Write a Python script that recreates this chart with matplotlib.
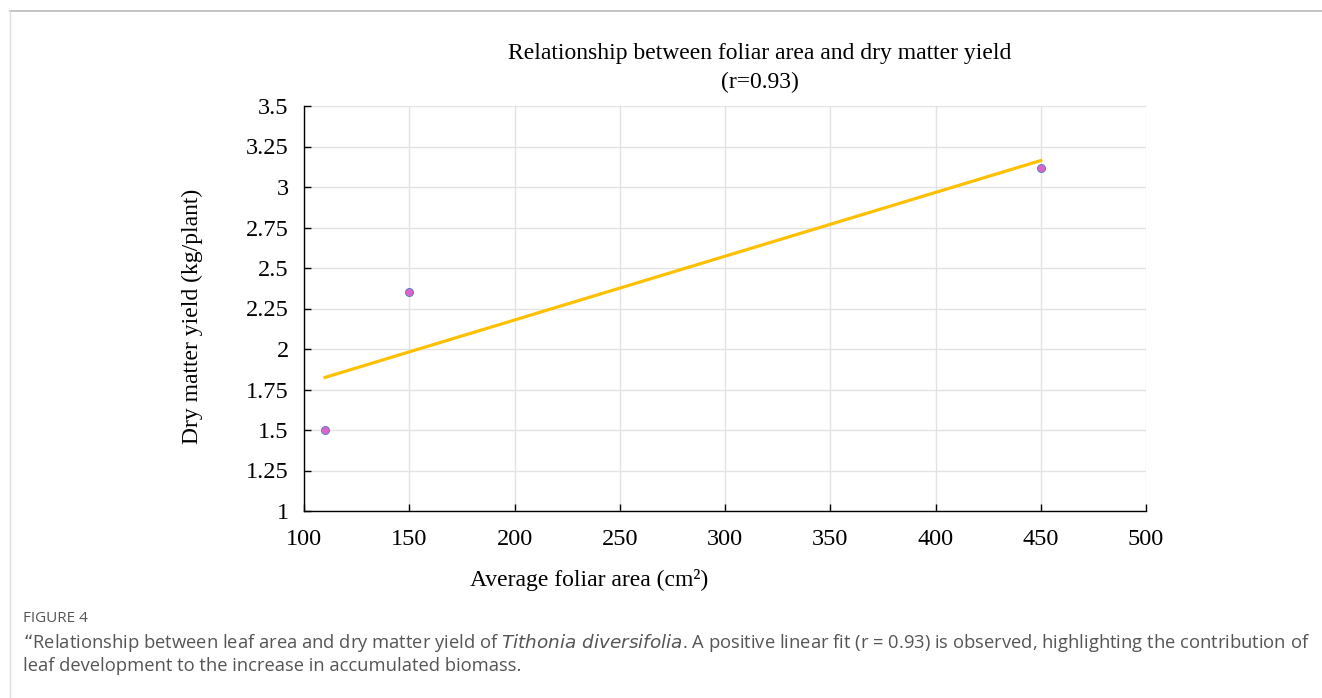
import numpy as np
import matplotlib.pyplot as plt
from matplotlib.lines import Line2D

# data
foliar_area = [110, 150, 450]
dry_matter = [1.5, 2.35, 3.12]
x_ticks = [100, 150, 200, 250, 300, 350, 400, 450, 500]
y_ticks = [1, 1.25, 1.5, 1.75, 2, 2.25, 2.5, 2.75, 3, 3.25, 3.5]
y_tick_labels = ["1", "1.25", "1.5", "1.75", "2", "2.25", "2.5", "2.75", "3", "3.25", "3.5"]

serif = "Liberation Serif"

fig = plt.figure(figsize=(13.22, 6.98), dpi=100)
W, H = 1322, 698
ax = fig.add_axes([304 / W, 1 - 511 / H, (1146 - 304) / W, (511 - 106) / H])

# linear fit
slope, intercept = np.polyfit(foliar_area, dry_matter, 1)
fit_x = np.array([min(foliar_area), max(foliar_area)])
ax.plot(fit_x, slope * fit_x + intercept, color="#FFC000", lw=2.3, zorder=3)

ax.scatter(foliar_area, dry_matter, s=34, color="#DC62CC", edgecolors="#4A7EBB",
           linewidths=0.6, zorder=4)

ax.set_xlim(100, 500)
ax.set_ylim(1, 3.5)
ax.set_xticks(x_ticks)
ax.set_yticks(y_ticks)
ax.set_yticklabels(y_tick_labels)
ax.grid(True, color="#E3E3E3", lw=1)
ax.set_axisbelow(True)
for s in ["top", "right"]:
    ax.spines[s].set_visible(False)
for s in ["left", "bottom"]:
    ax.spines[s].set_color("black")
    ax.spines[s].set_linewidth(1.0)
ax.tick_params(direction="in", length=5, width=1, labelsize=17.5)
ax.tick_params(axis="x", pad=13)
ax.tick_params(axis="y", pad=11)
for lab in ax.get_xticklabels() + ax.get_yticklabels():
    lab.set_family(serif)

ax.set_xlabel("Average foliar area (cm\u00b2)", family=serif, fontsize=17, va="center")
ax.xaxis.set_label_coords((589 - 304) / 842, (511 - 580) / 405)
ax.set_ylabel("Dry matter yield (kg/plant)", family=serif, fontsize=17, va="center")
ax.yaxis.set_label_coords((192 - 304) / 842, (511 - 316) / 405)

fig.text(760 / W, 1 - 53 / H, "Relationship between foliar area and dry matter yield",
         ha="center", va="center", family=serif, fontsize=17)
fig.text(760 / W, 1 - 82 / H, "(r=0.93)", ha="center", va="center", family=serif, fontsize=17)

# frame lines of the figure panel
fig.add_artist(Line2D([10 / W, 1], [1 - 11 / H, 1 - 11 / H], color="#BBBBBB", lw=1.2))
fig.add_artist(Line2D([10 / W, 10 / W], [0, 1 - 11 / H], color="#DDDDDD", lw=1.0))

# caption
cap_font = "Open Sans"
fig.text(23 / W, 1 - 618 / H, "FIGURE 4", ha="left", va="center", family=cap_font,
         fontsize=11, color="#555555")
fig.text(23 / W, 1 - 643 / H,
         "\u201cRelationship between leaf area and dry matter yield of $\\it{Tithonia\\ diversifolia}$. "
         "A positive linear fit (r = 0.93) is observed, highlighting the contribution of",
         ha="left", va="center", family=cap_font, fontsize=13.2, color="#555555")
fig.text(23 / W, 1 - 666 / H,
         "leaf development to the increase in accumulated biomass.",
         ha="left", va="center", family=cap_font, fontsize=13.2, color="#555555")

fig.savefig("out.png", dpi=100)
